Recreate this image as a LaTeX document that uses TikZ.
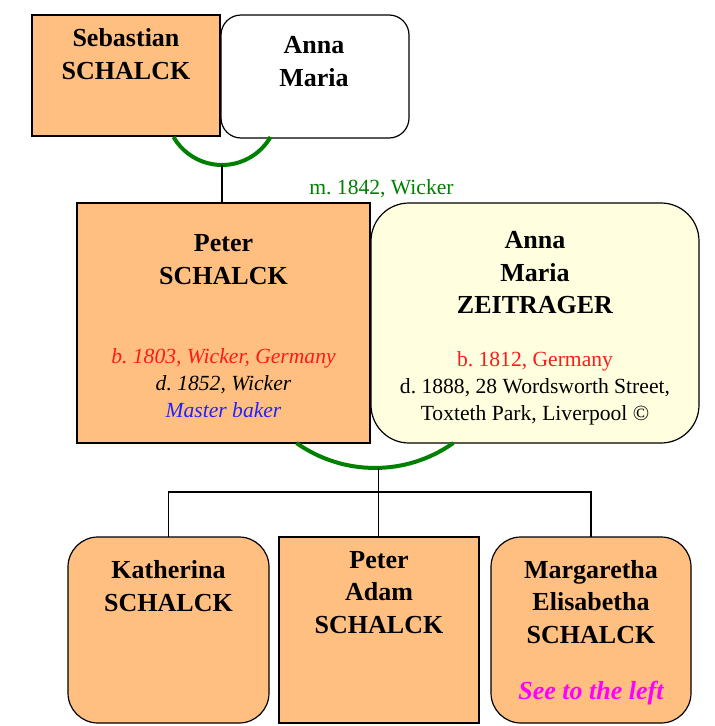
\documentclass[tikz,border=0pt]{standalone}
\usepackage{fontspec}
\setmainfont{Liberation Serif}
\frenchspacing
\definecolor{boxorange}{HTML}{FFBF80}
\definecolor{boxyellow}{HTML}{FFFFE0}
\definecolor{marrgreen}{HTML}{008000}
\definecolor{txtred}{HTML}{FF1A1A}
\definecolor{txtblue}{HTML}{2222FF}
\definecolor{txtmag}{HTML}{FF00FF}
\tikzset{
  person/.style={draw=black, line width=1.2pt, inner sep=0pt, outer sep=0pt},
  orangebox/.style={person, fill=boxorange},
  namefont/.style={font=\fontsize{26}{32.5}\selectfont\bfseries, align=center, anchor=base, inner sep=0pt},
  detailfont/.style={font=\fontsize{21.6}{26.7}\selectfont, align=center, anchor=base, inner sep=0pt},
  marr/.style={draw=marrgreen, line width=4pt},
  line/.style={draw=black, line width=1.1pt}
}
\begin{document}
\begin{tikzpicture}[x=1pt, y=-1pt]
\useasboundingbox (0,0) rectangle (715,726);
% boxes
\node[orangebox, minimum width=188pt, minimum height=121pt] (seb) at (126,75.5) {};
\node[person, fill=white, rounded corners=20pt, minimum width=188pt, minimum height=123pt] (anna1) at (315,76.5) {};
\node[orangebox, minimum width=293pt, minimum height=240pt] (peter) at (223.5,323) {};
\node[person, fill=boxyellow, rounded corners=38pt, minimum width=328pt, minimum height=240pt] (anna2) at (535,323) {};
\node[orangebox, rounded corners=30pt, minimum width=201pt, minimum height=186pt] (kath) at (168.5,630) {};
\node[orangebox, minimum width=200pt, minimum height=186pt] (padam) at (379,630) {};
\node[orangebox, rounded corners=30pt, minimum width=200pt, minimum height=186pt] (marg) at (591,630) {};
% texts (anchor base = baseline of last line)
\node[namefont] (sebT) at (126,79) {Sebastian\\SCHALCK};
\node[namefont] (anna1T) at (314,86) {Anna\\Maria};
\node[namefont] (peterT) at (223.5,284) {Peter\\SCHALCK};
\node[namefont] (anna2T) at (535,313.5) {Anna\\Maria\\ZEITRAGER};
\node[detailfont, font=\fontsize{21.6}{26.7}\selectfont\itshape] (peterD) at (223.5,417)
  {\textcolor{txtred}{b. 1803, Wicker, Germany}\\d. 1852, Wicker\\\textcolor{txtblue}{Master baker}};
\node[detailfont] (anna2D) at (535,420)
  {\textcolor{txtred}{b. 1812, Germany}\\d. 1888, 28 Wordsworth Street,\\Toxteth Park, Liverpool ©};
\node[detailfont, text=marrgreen] (marrT) at (381.5,194) {m. 1842, Wicker};
\node[namefont] (kathT) at (168.5,611) {Katherina\\SCHALCK};
\node[namefont] (padamT) at (379,633) {Peter\\Adam\\SCHALCK};
\node[namefont] (margT) at (591,643) {Margaretha\\Elisabetha\\SCHALCK};
\node[namefont, font=\fontsize{26}{32.5}\selectfont\bfseries\itshape, text=txtmag] (seeT) at (591,699) {See to the left};
% marriage arcs
\coordinate (m1s) at (173.5,137);
\coordinate (m1) at (222,165);
\coordinate (m2s) at (296.5,443);
\coordinate (m2) at (378.5,468);
\coordinate (bar) at (378.5,492);
\draw[marr] (m1s) arc[start angle=150, end angle=30, radius=56];
\draw[marr] (m2s) arc[start angle=125.3, end angle=54.7, radius=135.7];
% descent lines
\draw[line] (m1) -- (m1 |- peter.north);
\draw[line] (m2) -- (m2 |- padam.north);
\draw[line] (kath.north) |- (bar) -| (marg.north);
\end{tikzpicture}
\end{document}
